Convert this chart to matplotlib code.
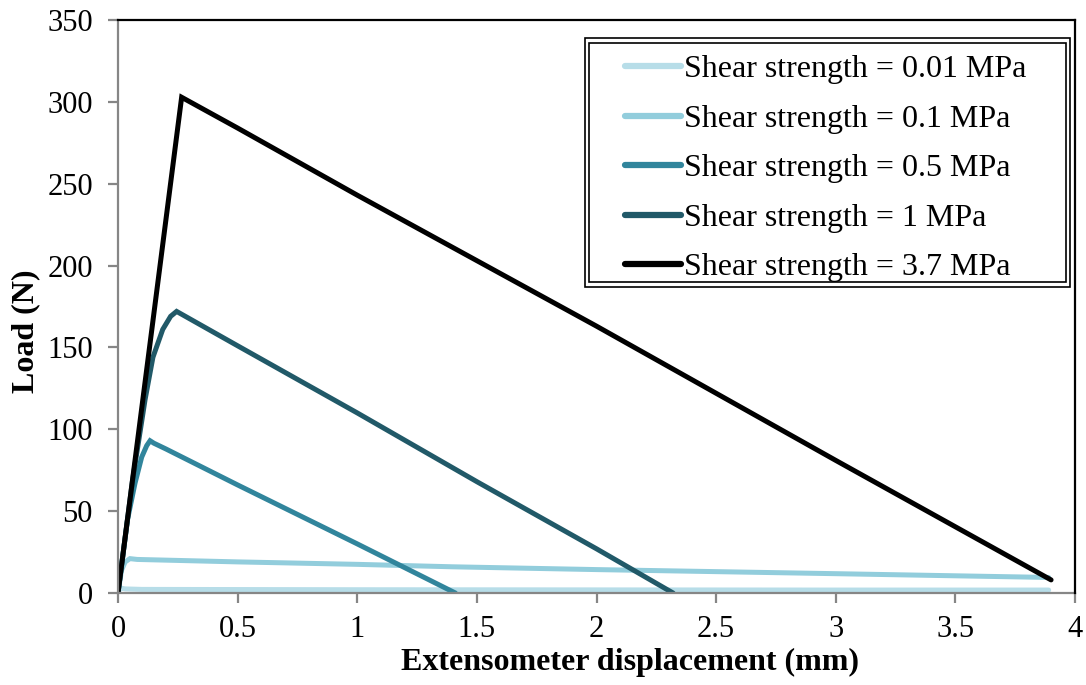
import matplotlib
matplotlib.use("Agg")
import matplotlib.pyplot as plt
from matplotlib.patches import Rectangle

plt.rcParams['font.family'] = ['Liberation Serif', 'DejaVu Serif']

labels = ['Shear strength = 0.01 MPa', 'Shear strength = 0.1 MPa',
          'Shear strength = 0.5 MPa', 'Shear strength = 1 MPa',
          'Shear strength = 3.7 MPa']
colors = ['#b7dde8', '#92cddc', '#31859c', '#215968', '#000000']

# displacement (mm) / load (N)
x_001 = [0, 0.01, 0.03, 0.1, 1.0, 2.0, 3.0, 3.89]
y_001 = [0, 3.0, 2.5, 2.2, 2.0, 1.9, 1.8, 1.8]

x_01 = [0, 0.015, 0.03, 0.05, 0.08, 0.5, 1.0, 1.4, 2.0, 3.0, 3.89]
y_01 = [0, 14, 19, 21, 20.5, 19, 17.5, 16, 14.3, 11.8, 9.5]

x_05 = [0, 0.04, 0.071, 0.099, 0.12, 0.134, 0.15, 0.2, 0.5, 1.0, 1.41]
y_05 = [0, 45, 67, 83, 90, 93, 91.5, 88, 66, 30, 0]

x_1 = [0, 0.06, 0.113, 0.146, 0.187, 0.22, 0.245, 0.5, 1.0, 1.5, 2.0, 2.32]
y_1 = [0, 68, 118, 144, 161, 169, 172, 151, 110, 68, 27, 0]

x_37 = [0, 0.266, 0.5, 1.0, 2.0, 3.0, 3.9]
y_37 = [0, 302.8, 284, 243, 163, 81, 8]

series_x = [x_001, x_01, x_05, x_1, x_37]
series_y = [y_001, y_01, y_05, y_1, y_37]

xticks = [0, 0.5, 1, 1.5, 2, 2.5, 3, 3.5, 4]
xticklabels = ['0', '0.5', '1', '1.5', '2', '2.5', '3', '3.5', '4']
yticks = [0, 50, 100, 150, 200, 250, 300, 350]

W, H = 1086, 685
fig = plt.figure(figsize=(W / 100, H / 100), dpi=100)
ax = fig.add_axes([118 / W, 1 - 593 / H, (1075 - 118) / W, (593 - 20) / H])

for xs, ys, c, lab in zip(series_x, series_y, colors, labels):
    ax.plot(xs, ys, color=c, lw=3.6, label=lab, solid_capstyle='round',
            solid_joinstyle='miter')

ax.set_xlim(0, 4)
ax.set_ylim(0, 350)
ax.set_xticks(xticks)
ax.set_xticklabels(xticklabels)
ax.set_yticks(yticks)

grey = '#868686'
for s in ['left', 'bottom']:
    ax.spines[s].set_color(grey)
    ax.spines[s].set_linewidth(1.6)
for s in ['top', 'right']:
    ax.spines[s].set_color('black')
    ax.spines[s].set_linewidth(1.6)
ax.spines['right'].set_zorder(5)

ax.tick_params(axis='both', direction='out', length=7, width=1.6, color=grey,
               labelsize=22)
ax.tick_params(axis='x', pad=9)
ax.tick_params(axis='y', pad=11)

ax.set_xlabel('Extensometer displacement (mm)', fontsize=23, fontweight='bold')
ax.xaxis.set_label_coords((630 - 118) / 957, (593 - 648) / 573)
ax.xaxis.label.set_va('top')
ax.set_ylabel('Load (N)', fontsize=23, fontweight='bold')
ax.yaxis.set_label_coords((26 - 118) / 957, (593 - 331) / 573)
ax.yaxis.label.set_va('center')

leg = ax.legend(loc='upper left', bbox_to_anchor=(625 / W, 1 - 55 / H),
                bbox_transform=fig.transFigure, frameon=False, fontsize=23,
                handlelength=1.75, handletextpad=0.1, labelspacing=0.63,
                borderpad=0, borderaxespad=0)
for h in leg.get_lines():
    h.set_linewidth(4.5)

# Excel-style double frame around the legend
for x0, y0, x1, y1 in [(585, 38, 1070, 287), (589, 43, 1066, 282)]:
    fig.patches.append(Rectangle((x0 / W, 1 - y1 / H), (x1 - x0) / W, (y1 - y0) / H,
                                 transform=fig.transFigure, fill=False,
                                 edgecolor='black', lw=1.2, zorder=10))

fig.savefig('out.png', dpi=100)
